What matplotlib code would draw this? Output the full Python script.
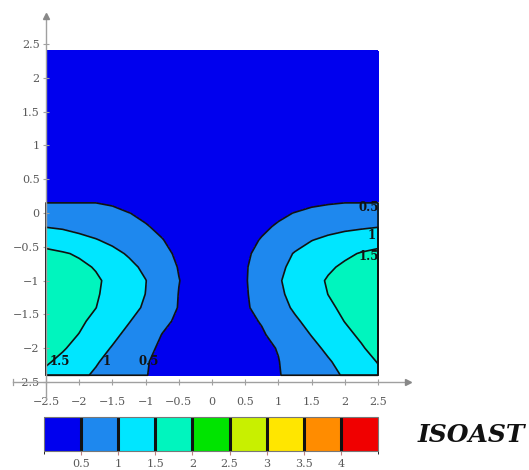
import numpy as np
import matplotlib
matplotlib.use("Agg")
import matplotlib.pyplot as plt
from matplotlib.colors import ListedColormap, BoundaryNorm

# ---- data ----
x_vals = [-2.5, -2.25, -2.0, -1.75, -1.5, -1.25, -1.0, -0.75, -0.5, -0.25, 0.0,
          0.25, 0.5, 0.75, 1.0, 1.25, 1.5, 1.75, 2.0, 2.25, 2.5]
y_vals = [-2.4, -2.2, -2.0, -1.8, -1.6, -1.4, -1.2, -1.0, -0.8, -0.6, -0.4, -0.2,
          0.0, 0.2, 0.4, 2.4]
z_rows = [
    [1.40, 1.24, 1.09, 0.94, 0.80, 0.65, 0.51, 0.43, 0.35, 0.28, 0.20, 0.27, 0.34, 0.41, 0.48, 0.61, 0.75, 0.89, 1.04, 1.22, 1.40],
    [1.55, 1.40, 1.22, 1.04, 0.86, 0.69, 0.52, 0.43, 0.355, 0.28, 0.20, 0.27, 0.35, 0.42, 0.49, 0.64, 0.80, 0.96, 1.14, 1.33, 1.52],
    [1.65, 1.54, 1.365, 1.17, 0.97, 0.77, 0.57, 0.45, 0.365, 0.28, 0.20, 0.28, 0.35, 0.43, 0.515, 0.70, 0.89, 1.08, 1.27, 1.46, 1.65],
    [1.72, 1.61, 1.49, 1.30, 1.10, 0.89, 0.69, 0.49, 0.395, 0.30, 0.20, 0.29, 0.38, 0.46, 0.62, 0.82, 1.015, 1.21, 1.40, 1.57, 1.72],
    [1.80, 1.68, 1.565, 1.41, 1.21, 1.02, 0.805, 0.59, 0.43, 0.32, 0.20, 0.30, 0.41, 0.525, 0.73, 0.94, 1.13, 1.32, 1.51, 1.65, 1.80],
    [1.85, 1.735, 1.62, 1.505, 1.32, 1.14, 0.94, 0.71, 0.48, 0.34, 0.20, 0.32, 0.45, 0.625, 0.85, 1.06, 1.24, 1.43, 1.58, 1.715, 1.85],
    [1.90, 1.78, 1.66, 1.54, 1.37, 1.18, 0.995, 0.75, 0.49, 0.35, 0.20, 0.33, 0.46, 0.675, 0.92, 1.13, 1.32, 1.505, 1.64, 1.77, 1.90],
    [1.95, 1.82, 1.69, 1.56, 1.39, 1.195, 1.01, 0.755, 0.51, 0.35, 0.20, 0.335, 0.47, 0.70, 0.96, 1.16, 1.36, 1.54, 1.68, 1.81, 1.95],
    [1.80, 1.695, 1.59, 1.47, 1.29, 1.11, 0.91, 0.69, 0.48, 0.34, 0.20, 0.33, 0.465, 0.675, 0.91, 1.11, 1.27, 1.44, 1.57, 1.69, 1.80],
    [1.60, 1.54, 1.45, 1.29, 1.12, 0.95, 0.77, 0.59, 0.44, 0.32, 0.20, 0.32, 0.44, 0.605, 0.825, 1.03, 1.16, 1.29, 1.42, 1.53, 1.60],
    [1.33, 1.23, 1.13, 1.025, 0.90, 0.77, 0.64, 0.51, 0.405, 0.30, 0.20, 0.30, 0.41, 0.52, 0.675, 0.83, 0.99, 1.08, 1.16, 1.25, 1.33],
    [0.98, 0.94, 0.86, 0.78, 0.69, 0.61, 0.52, 0.44, 0.36, 0.28, 0.20, 0.28, 0.36, 0.445, 0.535, 0.64, 0.75, 0.86, 0.91, 0.94, 0.98],
    [0.80, 0.80, 0.80, 0.80, 0.65, 0.505, 0.44, 0.38, 0.32, 0.26, 0.20, 0.26, 0.32, 0.38, 0.44, 0.51, 0.605, 0.70, 0.80, 0.80, 0.80],
    [0.40, 0.40, 0.40, 0.40, 0.36, 0.32, 0.30, 0.27, 0.25, 0.22, 0.20, 0.22, 0.25, 0.27, 0.30, 0.32, 0.36, 0.38, 0.40, 0.40, 0.40],
    [0.25, 0.25, 0.25, 0.25, 0.25, 0.25, 0.25, 0.25, 0.25, 0.25, 0.25, 0.25, 0.25, 0.25, 0.25, 0.25, 0.25, 0.25, 0.25, 0.25, 0.25],
    [0.15, 0.15, 0.15, 0.15, 0.15, 0.15, 0.15, 0.15, 0.15, 0.15, 0.15, 0.15, 0.15, 0.15, 0.15, 0.15, 0.15, 0.15, 0.15, 0.15, 0.15],
]
levels = [0.0, 0.5, 1.0, 1.5, 2.0, 2.5, 3.0, 3.5, 4.0, 4.5]
line_levels = [0.5, 1.0, 1.5]
colors = ['#0000EE', '#1E88EE', '#00E6FF', '#00F5BE', '#00E400',
          '#C8F000', '#FFE600', '#FF8C00', '#F00000']
tick_vals = [-2.5, -2.0, -1.5, -1.0, -0.5, 0.0, 0.5, 1.0, 1.5, 2.0, 2.5]
cbar_ticks = [0.5, 1.0, 1.5, 2.0, 2.5, 3.0, 3.5, 4.0]
label_texts = ['1.5', '1', '0.5', '0.5', '1', '1.5']
label_pos = [(-2.3, -2.2), (-1.58, -2.2), (-0.96, -2.2),
             (2.36, 0.08), (2.4, -0.33), (2.36, -0.65)]
title_text = 'ISOAST'

# ---- figure ----
W, H = 529, 470
fig = plt.figure(figsize=(W / 100, H / 100), dpi=100)
SERIF = 'DejaVu Serif'
GRAY = '#a0a0a0'
TXT = '#5a5a5a'

ax = fig.add_axes([6.2 / W, (470 - 398.9) / H, 405.0 / W, 385.3 / H])
ax.set_xlim(-3.1, 3.0)
ax.set_ylim(-2.75, 2.95)

X = np.array(x_vals)
Y = np.array(y_vals)
Z = np.array(z_rows)
cmap = ListedColormap(colors)
norm = BoundaryNorm(levels, cmap.N)
cf = ax.contourf(X, Y, Z, levels=levels, cmap=cmap, norm=norm, zorder=1)

# outline incl. domain border (pad with zeros just outside the domain)
eps = 1e-4
Xp = np.concatenate([[X[0] - eps], X, [X[-1] + eps]])
Yp = np.concatenate([[Y[0] - eps], Y, [Y[-1] + eps]])
Zp = np.pad(Z, 1, mode='constant', constant_values=0.0)
ax.contour(Xp, Yp, Zp, levels=line_levels, colors='#111111', linewidths=1.2, zorder=2)

for t, (lx, ly) in zip(label_texts, label_pos):
    ax.text(lx, ly, t, ha='center', va='center', fontsize=8.5, fontweight='bold',
            family=SERIF, color='#111111', zorder=3)

# axes styled like arrows
for s in ['top', 'right']:
    ax.spines[s].set_visible(False)
ax.spines['bottom'].set_position(('data', -2.5))
ax.spines['left'].set_position(('data', -2.5))
ax.spines['bottom'].set_bounds(-3.0, 2.93)
ax.spines['left'].set_bounds(-2.75, 2.9)
for s in ['bottom', 'left']:
    ax.spines[s].set_color(GRAY)
    ax.spines[s].set_linewidth(1.0)
    ax.spines[s].set_zorder(2.5)
ax.plot([2.95], [-2.5], marker='>', color='#888888', markersize=5, clip_on=False, zorder=4)
ax.plot([-2.5], [2.92], marker='^', color='#888888', markersize=5, clip_on=False, zorder=4)
ax.plot([-3.0, -3.0], [-2.55, -2.45], color=GRAY, lw=0.9, zorder=0.5)

fmt = matplotlib.ticker.FuncFormatter(lambda v, p: ('%g' % v).replace('-', '\u2212'))
ax.set_xticks(tick_vals)
ax.set_yticks(tick_vals)
ax.xaxis.set_major_formatter(fmt)
ax.yaxis.set_major_formatter(fmt)
ax.tick_params(axis='both', direction='inout', length=5, width=0.8, color=GRAY,
               labelcolor=TXT, labelsize=8)
ax.tick_params(axis='x', pad=8)
ax.tick_params(axis='y', pad=2)
for lab in ax.get_xticklabels() + ax.get_yticklabels():
    lab.set_family(SERIF)

# colorbar
cax = fig.add_axes([44 / W, (470 - 451) / H, 334 / W, 34 / H])
cb = fig.colorbar(cf, cax=cax, orientation='horizontal', ticks=cbar_ticks, drawedges=True)
cb.dividers.set_color('#111111')
cb.dividers.set_linewidth(2.2)
cb.outline.set_edgecolor('#777777')
cb.outline.set_linewidth(0.8)
cb.ax.xaxis.set_major_formatter(matplotlib.ticker.FuncFormatter(lambda v, p: '%g' % v))
cb.ax.tick_params(axis='x', length=3, color='#c08080', labelcolor=TXT, labelsize=8, pad=3)
for lab in cb.ax.get_xticklabels():
    lab.set_family(SERIF)

fig.text(418 / W, (470 - 435) / H, title_text, ha='left', va='center', fontsize=18,
         style='italic', fontweight='bold', family=SERIF, color='#111111')

fig.savefig('out.png', dpi=100)
